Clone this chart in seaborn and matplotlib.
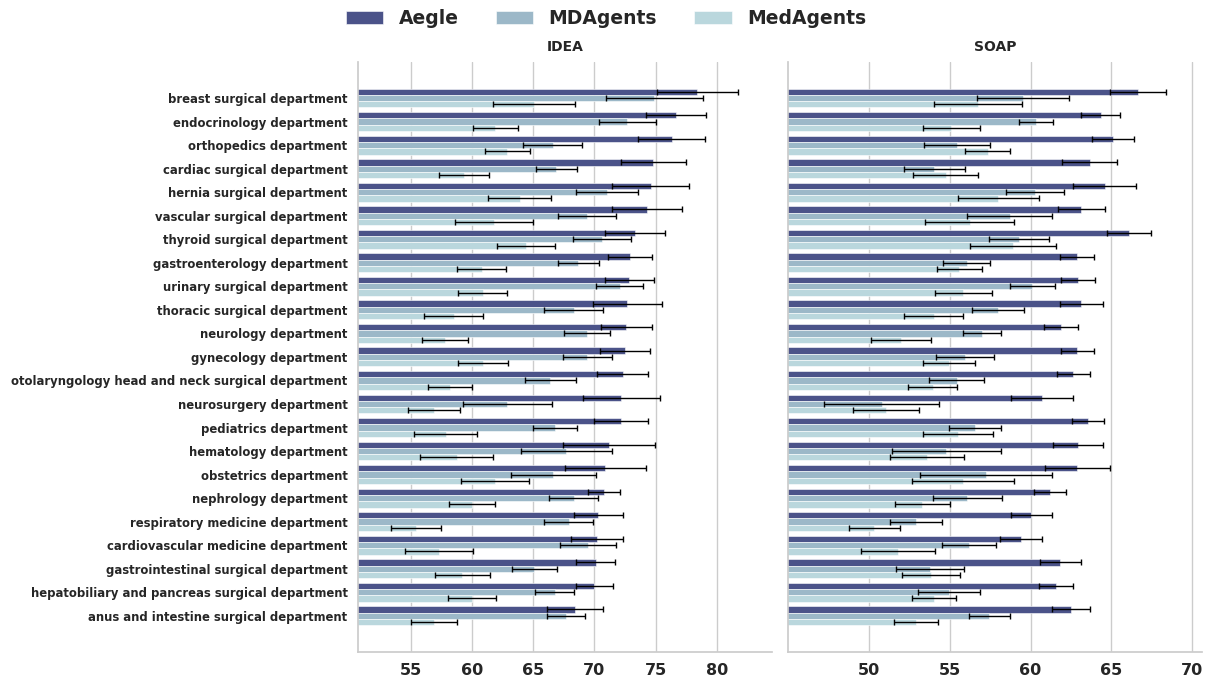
import matplotlib

matplotlib.use("Agg")
import matplotlib.pyplot as plt
import numpy as np
import pandas as pd
import seaborn as sns

departments = [
    "breast surgical department",
    "endocrinology department",
    "orthopedics department",
    "cardiac surgical department",
    "hernia surgical department",
    "vascular surgical department",
    "thyroid surgical department",
    "gastroenterology department",
    "urinary surgical department",
    "thoracic surgical department",
    "neurology department",
    "gynecology department",
    "otolaryngology head and neck surgical department",
    "neurosurgery department",
    "pediatrics department",
    "hematology department",
    "obstetrics department",
    "nephrology department",
    "respiratory medicine department",
    "cardiovascular medicine department",
    "gastrointestinal surgical department",
    "hepatobiliary and pancreas surgical department",
    "anus and intestine surgical department",
]
models = ["Aegle", "MDAgents", "MedAgents"]
colors = ["#4b5389", "#9cb8c8", "#bad7dd"]

# IDEA scores (mean) and error half-widths
idea_aegle = [78.4, 76.7, 76.3, 74.8, 74.6, 74.3, 73.3, 72.9, 72.85, 72.7, 72.6, 72.5,
              72.3, 72.2, 72.2, 71.2, 70.9, 70.8, 70.3, 70.2, 70.1, 70.0, 68.4]
idea_aegle_err = [3.3, 2.45, 2.75, 2.65, 3.15, 2.85, 2.45, 1.8, 2.0, 2.8, 2.1, 2.05,
                  2.1, 3.15, 2.2, 3.75, 3.3, 1.3, 2.0, 2.15, 1.6, 1.5, 2.3]
idea_mdagents = [74.9, 72.7, 66.6, 66.9, 71.05, 69.4, 70.6, 68.7, 72.05, 68.3, 69.4, 69.4,
                 66.4, 62.9, 66.8, 67.7, 66.65, 68.3, 67.9, 69.5, 65.1, 66.75, 67.7]
idea_mdagents_err = [3.95, 2.35, 2.4, 1.7, 2.55, 2.35, 2.35, 1.65, 1.9, 2.4, 1.85, 2.0,
                     2.1, 3.6, 1.8, 3.7, 3.45, 2.0, 2.0, 2.3, 1.85, 1.6, 1.55]
idea_medagents = [65.1, 61.9, 62.9, 59.35, 63.9, 61.8, 64.4, 60.8, 60.9, 58.5, 57.8, 60.9,
                  58.2, 56.9, 57.85, 58.75, 61.9, 60.0, 55.45, 57.3, 59.2, 60.0, 56.9]
idea_medagents_err = [3.35, 1.85, 1.85, 2.05, 2.55, 3.2, 2.35, 2.0, 2.0, 2.4, 1.85, 2.05,
                      1.8, 2.15, 2.6, 3.0, 2.8, 1.9, 2.05, 2.75, 2.25, 1.95, 1.9]

# SOAP scores (mean) and error half-widths
soap_aegle = [66.65, 64.35, 65.1, 63.65, 64.6, 63.15, 66.1, 62.85, 62.95, 63.15, 61.9, 62.9,
              62.65, 60.7, 63.55, 62.95, 62.9, 61.2, 60.05, 59.4, 61.85, 61.55, 62.5]
soap_aegle_err = [1.75, 1.2, 1.3, 1.7, 1.95, 1.45, 1.35, 1.05, 1.05, 1.35, 1.05, 1.0,
                  1.0, 1.9, 1.0, 1.55, 2.0, 1.0, 1.25, 1.3, 1.25, 1.05, 1.15]
soap_mdagents = [59.55, 60.35, 55.45, 54.05, 60.3, 58.7, 59.3, 56.05, 60.1, 58.0, 57.0, 55.95,
                 55.45, 50.8, 56.55, 54.8, 57.25, 56.1, 52.9, 56.2, 53.8, 54.95, 57.45]
soap_mdagents_err = [2.85, 1.05, 2.05, 1.9, 1.8, 2.6, 1.85, 1.45, 1.4, 1.6, 1.15, 1.8,
                     1.7, 3.55, 1.6, 3.35, 4.1, 2.15, 1.6, 1.65, 2.1, 1.9, 1.25]
soap_medagents = [56.75, 55.1, 57.35, 54.75, 58.0, 56.25, 58.9, 55.6, 55.85, 54.0, 52.0, 54.95,
                  53.95, 51.05, 55.5, 53.6, 55.8, 53.3, 50.35, 51.8, 53.85, 54.05, 52.9]
soap_medagents_err = [2.7, 1.75, 1.4, 2.0, 2.5, 2.75, 2.65, 1.4, 1.75, 1.8, 1.85, 1.6,
                      1.5, 2.05, 2.15, 2.3, 3.15, 1.7, 1.6, 2.3, 1.8, 1.35, 1.35]

panels = {
    "IDEA": ([idea_aegle, idea_mdagents, idea_medagents],
             [idea_aegle_err, idea_mdagents_err, idea_medagents_err],
             (50.7, 84.5), [55, 60, 65, 70, 75, 80]),
    "SOAP": ([soap_aegle, soap_mdagents, soap_medagents],
             [soap_aegle_err, soap_mdagents_err, soap_medagents_err],
             (45.0, 70.6), [50, 55, 60, 65, 70]),
}

sns.set_theme(style="whitegrid")
plt.rcParams["font.family"] = ["DejaVu Sans"]

fig, axes = plt.subplots(1, 2, figsize=(12.12, 6.82), dpi=100, sharey=True)
fig.subplots_adjust(left=0.2954, right=0.9917, top=0.909, bottom=0.044, wspace=0.0386)

for ax, (title, (means, errs, xlim, xticks)) in zip(axes, panels.items()):
    df = pd.DataFrame({
        "department": np.tile(departments, len(models)),
        "model": np.repeat(models, len(departments)),
        "score": np.concatenate(means),
    })
    sns.barplot(
        data=df, y="department", x="score", hue="model",
        order=departments, hue_order=models, palette=colors,
        saturation=1, errorbar=None, width=0.8,
        edgecolor="white", linewidth=0.4, ax=ax, legend=(title == "IDEA"),
    )
    for container, err in zip(ax.containers, errs):
        ys = [p.get_y() + p.get_height() / 2 for p in container.patches]
        xs = [p.get_width() for p in container.patches]
        ax.errorbar(xs, ys, xerr=err, fmt="none", ecolor="black",
                    elinewidth=1, capsize=2, capthick=1, zorder=3)
    ax.set_xlim(*xlim)
    ax.set_xticks(xticks)
    ax.set_ylim(len(departments) + 0.54, -1.53)
    ax.set_title(title, fontsize=10, fontweight="bold", pad=8, color="#262626")
    ax.set_xlabel("")
    ax.set_ylabel("")
    ax.yaxis.grid(False)
    ax.tick_params(axis="x", labelsize=11.5, pad=2)
    ax.tick_params(axis="y", labelsize=8.4, pad=1.5)
    for lab in ax.get_xticklabels() + ax.get_yticklabels():
        lab.set_fontweight("bold")
        lab.set_color("#262626")
    sns.despine(ax=ax)

handles, labels = axes[0].get_legend_handles_labels()
axes[0].get_legend().remove()
fig.legend(handles, labels, loc="upper center", bbox_to_anchor=(0.5, 1.012),
           ncol=3, frameon=False, columnspacing=2.0,
           prop={"weight": "bold", "size": 13.5})

fig.savefig("out.png", dpi=100)
